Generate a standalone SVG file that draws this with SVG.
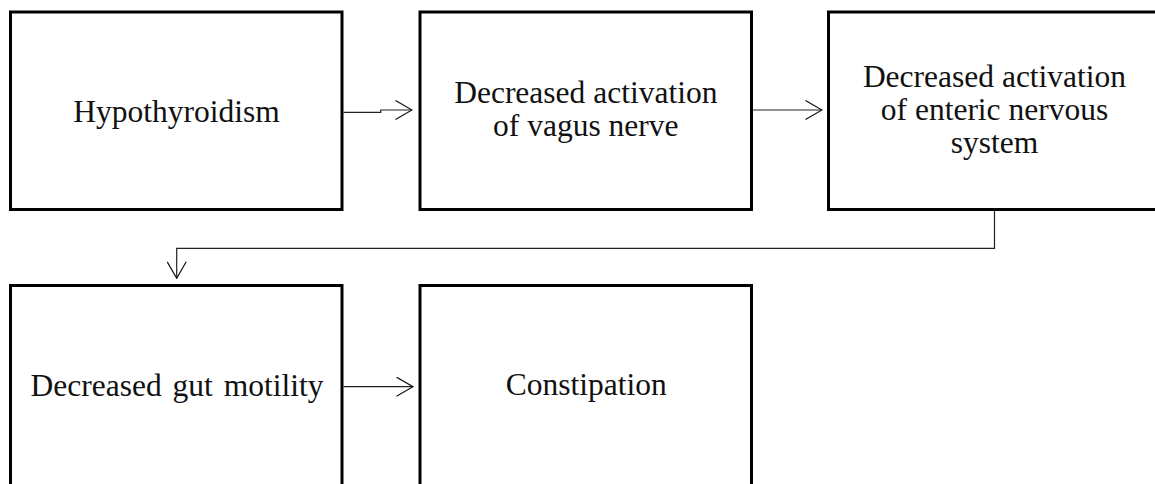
<svg xmlns="http://www.w3.org/2000/svg" width="1155" height="484" viewBox="0 0 1155 484">
  <style>
    .box { fill: #ffffff; stroke: #000000; stroke-width: 3; }
    .label { font-family: "Liberation Serif", "Times New Roman", serif; font-size: 31.5px; fill: #111111; text-anchor: middle; }
    .wire { fill: none; stroke: #222222; stroke-width: 1.2; }
  </style>
  <defs>
    <marker id="open-arrow" viewBox="0 0 18 20" refX="17" refY="10" markerWidth="18" markerHeight="20" markerUnits="userSpaceOnUse" orient="auto">
      <path d="M0.5,0.5 L17,10 L0.5,19.5" fill="none" stroke="#111111" stroke-width="1.2"/>
    </marker>
  </defs>
  <rect width="1155" height="484" fill="#ffffff"/>

  <g id="hypothyroidism">
    <rect class="box" x="10.5" y="12" width="331.5" height="197.5"/>
    <text class="label" x="176.5" y="121.7">Hypothyroidism</text>
  </g>

  <g id="vagus-nerve">
    <rect class="box" x="420" y="12" width="331.5" height="197.5"/>
    <text class="label" x="585.8" y="103.3">Decreased activation</text>
    <text class="label" x="585.8" y="136">of vagus nerve</text>
  </g>

  <g id="enteric-nervous-system">
    <rect class="box" x="828.5" y="12" width="331.5" height="197.5"/>
    <text class="label" x="994.5" y="86.5">Decreased activation</text>
    <text class="label" x="994.5" y="120">of enteric nervous</text>
    <text class="label" x="994.5" y="153">system</text>
  </g>

  <g id="gut-motility">
    <rect class="box" x="10.5" y="285.5" width="331.5" height="230"/>
    <text class="label" x="177" y="396" word-spacing="3">Decreased gut motility</text>
  </g>

  <g id="constipation">
    <rect class="box" x="420" y="285.5" width="331.5" height="230"/>
    <text class="label" x="586.3" y="395">Constipation</text>
  </g>

  <g id="connectors">
    <path class="wire" d="M343.5,112.3 H380.7 V110 H412" marker-end="url(#open-arrow)"/>
    <path class="wire" d="M753,110 H822" marker-end="url(#open-arrow)"/>
    <path class="wire" d="M994.5,211 V248.3 H176.7 V278.3" marker-end="url(#open-arrow)"/>
    <path class="wire" d="M343.5,386.7 H413" marker-end="url(#open-arrow)"/>
  </g>
</svg>
